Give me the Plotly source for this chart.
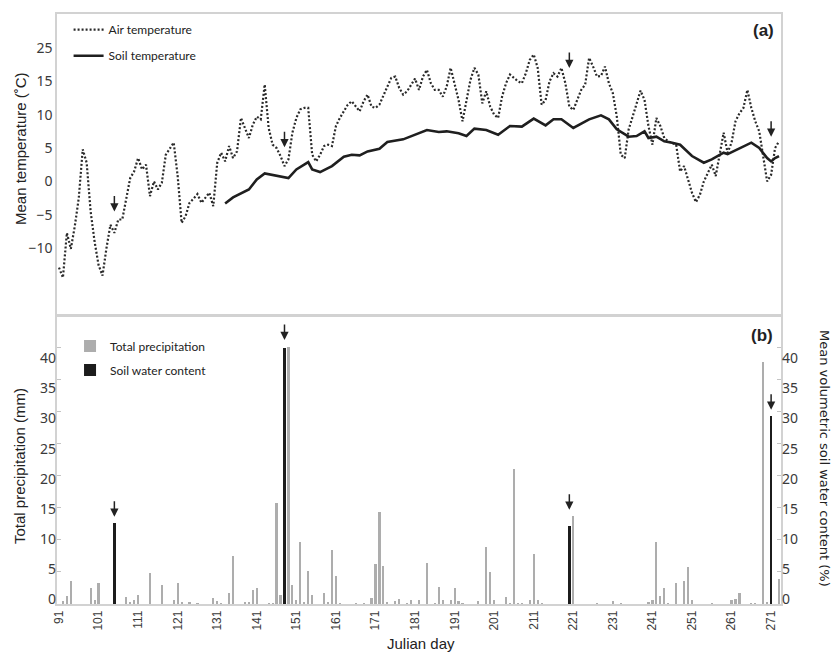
import plotly.graph_objects as go

# ---------------- data ----------------
air_days = list(range(91, 274))
air_temp = [
    -12.9, -14.4, -7.7, -10.1, -6.7, -2.5, 4.8, 2.8, -4.5, -9.0,      # 91-100
    -12.5, -14.1, -10.0, -6.5, -7.7, -5.7, -5.7, -2.5, 0.5, 1.5,      # 101-110
    3.5, 1.8, 2.5, -2.2, 0.0, -1.2, -0.2, 4.0, 5.0, 5.8,              # 111-120
    0.8, -6.2, -5.2, -3.2, -2.6, -1.9, -3.2, -2.4, -1.7, -3.7,        # 121-130
    2.8, 4.3, 3.0, 5.3, 3.5, 4.5, 9.5, 8.0, 6.5, 8.5,                 # 131-140
    9.7, 9.3, 14.5, 8.0, 5.5, 5.0, 3.8, 2.3, 3.3, 7.3,                # 141-150
    9.5, 10.8, 11.0, 11.0, 4.0, 3.0, 4.0, 5.3, 5.5, 5.3,              # 151-160
    8.3, 9.5, 10.5, 11.5, 12.0, 11.3, 10.5, 12.0, 13.0, 11.2,         # 161-170
    11.0, 11.5, 13.0, 14.2, 15.5, 15.7, 14.0, 13.0, 13.5, 14.5,       # 171-180
    15.4, 13.7, 15.7, 16.7, 14.7, 13.7, 13.7, 12.7, 14.2, 17.0,       # 181-190
    14.5, 12.2, 9.0, 12.0, 15.2, 17.0, 16.0, 11.7, 13.5, 11.2,        # 191-200
    10.0, 9.5, 12.7, 14.7, 16.0, 15.5, 15.0, 14.7, 16.2, 18.2,        # 201-210
    19.0, 17.0, 11.5, 12.2, 15.0, 16.2, 15.7, 17.0, 14.7, 11.2,       # 211-220
    10.7, 12.2, 13.7, 14.5, 18.5, 17.2, 15.7, 15.8, 17.2, 14.7,       # 221-230
    13.2, 9.7, 4.0, 3.5, 7.8, 9.7, 11.7, 13.6, 12.2, 8.3,             # 231-240
    5.5, 9.5, 8.3, 6.5, 6.0, 5.7, 5.5, 1.5, 2.3, 0.3,                 # 241-250
    -1.7, -3.1, -2.0, 0.0, 1.3, 2.5, 0.8, 4.3, 7.3, 4.3,              # 251-260
    5.8, 9.0, 10.2, 11.0, 13.7, 11.0, 9.0, 7.5, 4.0, 0.0,             # 261-270
    1.0, 5.0, 6.0,                                                    # 271-273
]

soil_days = [133, 135, 139, 141, 143, 146, 149, 151, 154, 155, 157, 159, 160,
             163, 165, 167, 169, 172, 174, 178, 181, 184, 187, 189, 192, 194,
             196, 199, 202, 205, 208, 211, 214, 216, 218, 221, 225, 227, 228,
             230, 232, 235, 237, 239, 240, 242, 244, 246, 248, 251, 254, 256,
             259, 260, 263, 266, 268, 270, 271, 272, 273]
soil_temp = [-3.3, -2.4, -1.2, 0.3, 1.2, 0.8, 0.5, 1.8, 2.9, 1.8, 1.4, 2.0, 2.3,
             3.7, 4.0, 3.9, 4.5, 4.9, 5.9, 6.3, 7.0, 7.7, 7.4, 7.5, 7.2, 6.8,
             7.9, 7.7, 7.0, 8.3, 8.2, 9.4, 8.4, 9.3, 9.3, 8.0, 9.3, 9.7, 9.9,
             9.3, 7.8, 6.7, 6.8, 7.5, 6.5, 6.7, 6.0, 5.8, 5.5, 3.8, 2.8, 3.3,
             4.3, 4.1, 5.0, 5.8, 5.0, 3.5, 3.0, 3.5, 3.8]

precip_days = [92, 93, 94, 99, 100, 101, 108, 109, 110, 111, 114, 117, 120, 121,
               122, 124, 126, 130, 131, 132, 134, 135, 138, 139, 140, 141, 144,
               145, 146, 147, 149, 150, 151, 152, 153, 154, 155, 158, 159, 160,
               161, 162, 166, 168, 170, 171, 172, 173, 174, 176, 177, 179, 180,
               182, 184, 186, 187, 188, 190, 191, 192, 193, 197, 199, 200, 201,
               204, 205, 206, 207, 208, 210, 211, 212, 213, 221, 227, 231, 233,
               240, 241, 242, 243, 244, 245, 247, 249, 250, 251, 256, 261, 262,
               263, 266, 267, 269, 270, 273]
precip_mm = [0.5, 1.25, 3.6, 2.45, 0.6, 3.2, 1.15, 0.2, 0.6, 1.35, 4.9, 3.0, 0.6, 3.3,
             0.35, 0.25, 0.15, 0.9, 0.5, 0.15, 1.65, 7.5, 0.25, 0.2, 2.2, 2.45, 0.15,
             0.15, 15.8, 1.4, 40.1, 3.0, 0.6, 9.6, 0.2, 5.15, 1.4, 1.75, 0.2, 8.4,
             4.3, 0.15, 0.15, 0.15, 0.9, 6.3, 14.3, 5.9, 0.2, 0.5, 0.8, 0.15, 0.6,
             0.6, 6.4, 0.15, 2.7, 0.7, 0.6, 2.45, 0.5, 0.15, 0.5, 8.9, 5.05, 0.6,
             1.15, 0.15, 21.0, 0.15, 0.15, 0.6, 7.85, 0.6, 0.15, 13.8, 0.15, 0.5, 0.15,
             0.35, 0.6, 9.6, 1.3, 2.45, 0.15, 3.3, 3.55, 5.8, 0.6, 0.15, 0.6, 0.8,
             1.75, 0.15, 0.15, 37.8, 0.35, 3.9]

swc_days = [105, 148, 220, 271]
swc_pct = [12.7, 39.9, 12.1, 29.3]

# arrows (sampling dates)
arrow_days = [105, 148, 220, 271]
arrow_tip_temp = [-4.5, 5.1, 17.0, 6.7]
arrow_tip_bar = [13.6, 41.2, 14.7, 30.3]

x_ticks = list(range(91, 272, 10))
temp_tickvals = [-10, -5, 0, 5, 10, 15, 20]
temp_ticktext = ["\u221210", "\u22125", "0", "5", "10", "15", "25"]
bar_ticks = [0, 5, 10, 15, 20, 25, 30, 35, 40]

# ---------------- figure ----------------
GRID = "#d2d2d2"
TXT = "#333333"
TICKFONT = dict(family="Noto Sans", size=14, color="#3a3a3a")

fig = go.Figure()

fig.add_trace(go.Scatter(
    x=air_days, y=air_temp, mode="lines", name="Air temperature",
    line=dict(color="#2a2a2a", width=2.2, dash="2px,2px"),
    xaxis="x2", yaxis="y2", legend="legend", legendgroup="a"))
fig.add_trace(go.Scatter(
    x=soil_days, y=soil_temp, mode="lines", name="Soil temperature",
    line=dict(color="#1f1f1f", width=2.6),
    xaxis="x2", yaxis="y2", legend="legend", legendgroup="b"))

fig.add_trace(go.Bar(
    x=precip_days, y=precip_mm, name="Total precipitation", width=0.55,
    marker=dict(color="#adadad", line=dict(width=0)),
    xaxis="x", yaxis="y", legend="legend2", legendgroup="c"))
fig.add_trace(go.Bar(
    x=swc_days, y=swc_pct, name="Soil water content", width=0.65,
    marker=dict(color="#1c1c1c", line=dict(width=0)),
    xaxis="x", yaxis="y3", legend="legend2", legendgroup="d"))

# carriers for label-only axes
fig.add_trace(go.Scatter(x=[None], y=[None], xaxis="x", yaxis="y4",
                         showlegend=False, hoverinfo="skip"))
fig.add_trace(go.Scatter(x=[None], y=[None], xaxis="x", yaxis="y5",
                         showlegend=False, hoverinfo="skip"))

top_dom = [(604 - 315) / 590, 1.0]
bot_dom = [0.0, (604 - 316) / 590]

fig.update_layout(
    width=836, height=652,
    margin=dict(l=57, r=55, t=14, b=48),
    paper_bgcolor="white", plot_bgcolor="white",
    barmode="overlay", bargap=0,
    font=dict(family="Liberation Sans", color=TXT),
    xaxis=dict(domain=[0, 1], anchor="y", range=[90.5, 273.5],
               tickvals=x_ticks, tickangle=-90, ticks="",
               tickfont=dict(family="Liberation Sans", size=12, color="#3a3a3a"),
               showline=True, linecolor=GRID, linewidth=1.5, mirror=True,
               showgrid=False, zeroline=False),
    yaxis=dict(domain=bot_dom, anchor="x", range=[0, 44.93],
               tickvals=bar_ticks, ticks="inside", ticklen=4, tickcolor="#c4c4c4",
               showticklabels=False, showline=True, linecolor=GRID, linewidth=1.5,
               showgrid=False, zeroline=False),
    yaxis3=dict(overlaying="y", side="right", anchor="x", range=[0, 44.93],
                tickvals=bar_ticks, ticks="inside", ticklen=4, tickcolor="#c4c4c4",
                showticklabels=False, showline=True, linecolor=GRID, linewidth=1.5,
                showgrid=False, zeroline=False),
    yaxis4=dict(overlaying="y", side="left", anchor="x", range=[-0.78, 47.02],
                tickvals=bar_ticks, ticks="", tickfont=TICKFONT,
                showline=False, showgrid=False, zeroline=False),
    yaxis5=dict(overlaying="y", side="right", anchor="x", range=[-0.78, 47.02],
                tickvals=bar_ticks, ticks="", tickfont=TICKFONT,
                showline=False, showgrid=False, zeroline=False),
    xaxis2=dict(domain=[0, 1], anchor="y2", range=[90.5, 273.5],
                showticklabels=False, ticks="", showline=True, linecolor=GRID,
                linewidth=1.5, mirror=True, showgrid=False, zeroline=False),
    yaxis2=dict(domain=top_dom, anchor="x2", range=[-20.0, 25.07],
                tickvals=temp_tickvals, ticktext=temp_ticktext, ticks="",
                tickfont=TICKFONT, showline=True, linecolor=GRID, linewidth=1.5,
                mirror=True, showgrid=False, zeroline=False),
    legend=dict(x=0.016, y=0.998, xanchor="left", yanchor="top",
                bgcolor="rgba(0,0,0,0)", font=dict(family="Lato", size=12, color="#222"),
                tracegroupgap=7, itemwidth=30),
    legend2=dict(x=0.018, y=0.462, xanchor="left", yanchor="top",
                 bgcolor="rgba(0,0,0,0)", font=dict(family="Lato", size=12, color="#222"),
                 tracegroupgap=5, itemwidth=30),
)

ann = []
def px_x(px):
    return (px - 57) / 724
def px_y(py):
    return (604 - py) / 590

def label(text, px, py, size, angle=0, family="Liberation Sans"):
    return dict(text=text, x=px_x(px), y=px_y(py), xref="paper", yref="paper",
                xanchor="center", yanchor="middle", textangle=angle,
                showarrow=False, font=dict(family=family, size=size, color="#222"))

ann.append(label("Mean temperature (\u02daC)", 21, 149, 15, -90))
ann.append(label("Total precipitation (mm)", 19, 466, 15, -90))
ann.append(label("Julian day", 421, 643, 15))
ann.append(label("Mean volumetric soil water content (%)", 825, 458, 13, 90, "DejaVu Sans"))
ann.append(label("<b>(a)</b>", 763, 30, 17))
ann.append(label("<b>(b)</b>", 762, 335, 17))

for d, t in zip(arrow_days, arrow_tip_temp):
    ann.append(dict(x=d, y=t, xref="x2", yref="y2", text="", showarrow=True,
                    ax=0, ay=-17, arrowhead=2, arrowsize=1.1, arrowwidth=1.5,
                    arrowcolor="#222"))
for d, t in zip(arrow_days, arrow_tip_bar):
    ann.append(dict(x=d, y=t, xref="x", yref="y", text="", showarrow=True,
                    ax=0, ay=-17, arrowhead=2, arrowsize=1.1, arrowwidth=1.5,
                    arrowcolor="#222"))

fig.update_layout(annotations=ann)
fig.write_html("out.html")
